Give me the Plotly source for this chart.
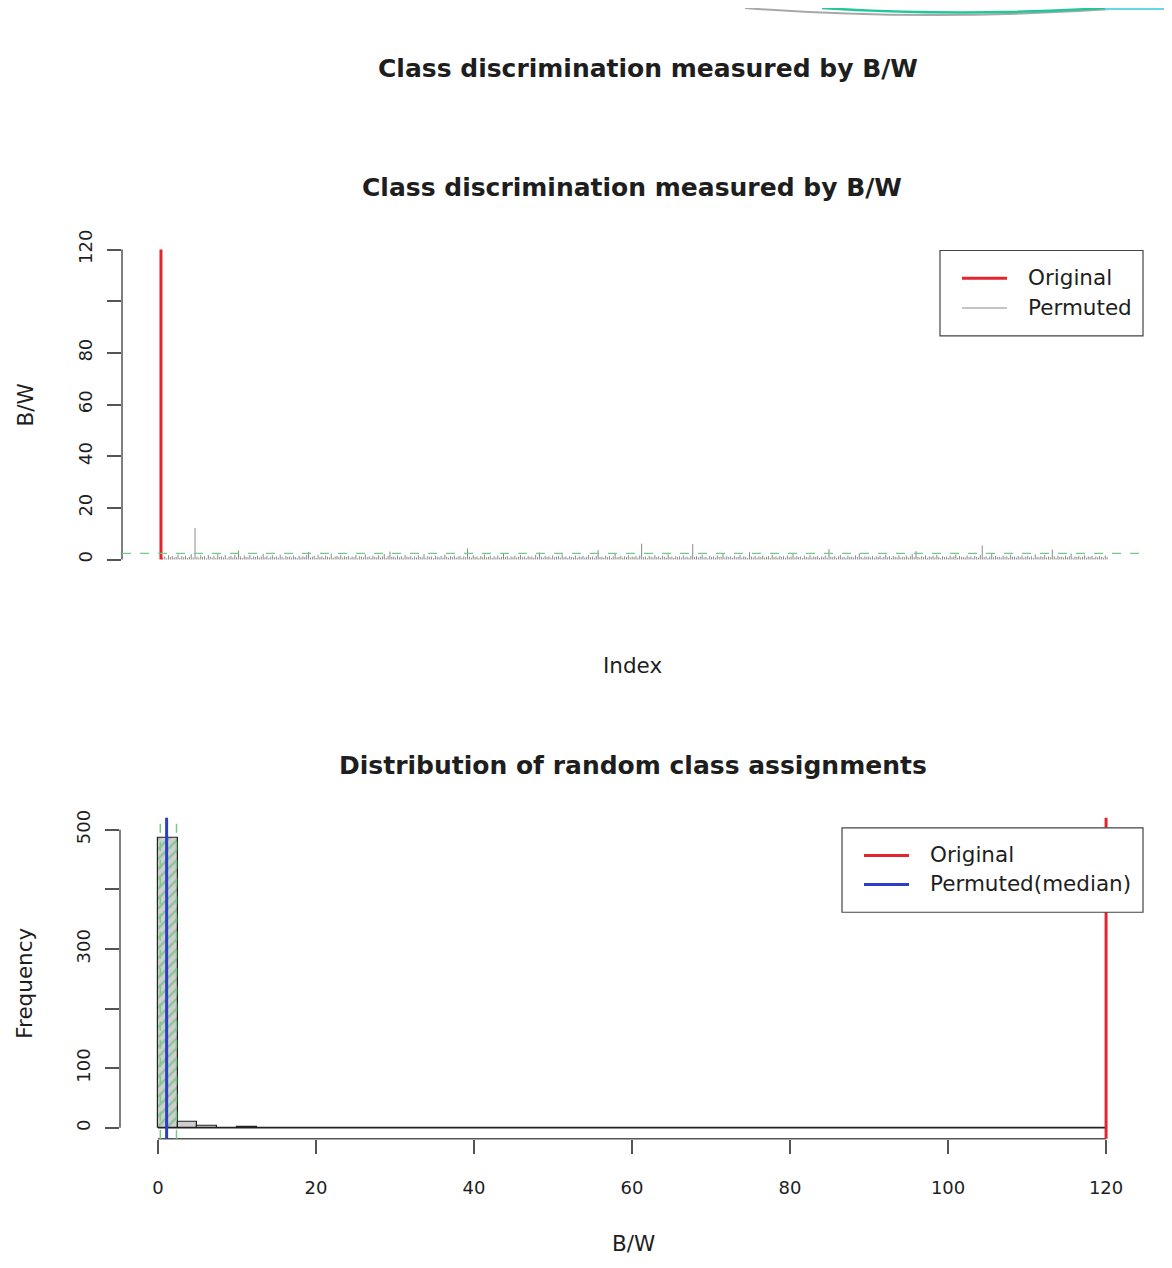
import numpy as np
import plotly.graph_objects as go

PAGE_W, PAGE_H = 1172, 1268
BODY_MARGIN = 8
W, H = PAGE_W - 2 * BODY_MARGIN, PAGE_H - 2 * BODY_MARGIN


def px(x):
    return (x - BODY_MARGIN) / W


def py(y):
    return 1 - (y - BODY_MARGIN) / H


# ---------------- data ----------------
original_bw = 120.0
permuted_bw = [
    0.84, 1.21, 0.47, 1.63, 0.92, 1.35, 0.71, 1.08, 1.94, 0.56, 1.27, 0.88, 1.49, 0.63, 1.12, 2.05, 0.79, 12.2, 1.03, 0.68, 1.57, 0.95, 1.31, 0.52, 1.76,
    1.18, 0.74, 1.42, 0.61, 2.12, 0.99, 1.26, 0.83, 1.68, 0.45, 1.09, 1.37, 0.77, 1.85, 0.91, 3.42, 1.14, 0.58, 1.51, 1.02, 0.86, 1.73, 0.64, 1.29, 0.97,
    1.44, 0.71, 1.16, 2.21, 0.89, 1.33, 0.55, 1.05, 1.62, 0.81, 1.24, 0.67, 1.91, 1.07, 0.49, 1.38, 0.93, 1.19, 0.76, 1.55, 1.01, 0.62, 1.47, 0.85, 1.28,
    0.94, 1.66, 2.87, 0.73, 1.11, 1.39, 0.57, 1.82, 0.98, 1.22, 0.69, 1.53, 1.04, 0.82, 2.31, 0.59, 1.17, 1.36, 0.87, 1.61, 0.72, 1.25, 0.96, 1.43, 0.65,
    1.13, 0.88, 1.71, 0.54, 1.32, 1.06, 0.79, 1.98, 0.92, 1.19, 0.66, 1.46, 1.01, 0.84, 1.58, 0.75, 1.23, 2.16, 0.61, 1.34, 3.08, 0.97, 1.14, 0.71, 1.52,
    0.86, 1.27, 0.63, 1.79, 1.09, 0.93, 1.41, 0.58, 1.20, 0.78, 1.64, 1.03, 0.89, 2.08, 0.68, 1.31, 0.95, 1.15, 0.52, 1.48, 1.07, 0.81, 1.37, 0.74, 1.88,
    1.02, 0.67, 1.29, 0.91, 1.56, 0.77, 1.12, 1.40, 0.60, 1.23, 0.85, 4.27, 1.08, 0.72, 1.67, 0.98, 1.18, 0.56, 1.35, 0.90, 1.94, 0.79, 1.05, 1.44, 0.64,
    1.26, 0.83, 1.59, 0.70, 1.10, 2.27, 0.94, 1.32, 0.61, 1.17, 0.87, 1.50, 0.76, 1.04, 1.72, 0.92, 1.21, 0.55, 1.38, 0.99, 1.13, 0.69, 1.84, 0.88, 2.68,
    1.07, 0.73, 1.45, 0.96, 1.24, 0.62, 1.60, 0.84, 1.11, 1.36, 0.71, 1.99, 0.90, 1.16, 0.58, 1.30, 1.03, 0.80, 1.53, 0.67, 1.22, 0.95, 1.41, 0.75, 1.09,
    1.77, 0.86, 1.19, 0.63, 1.34, 3.61, 0.97, 1.06, 0.74, 1.49, 0.89, 1.28, 0.57, 1.14, 2.19, 0.82, 1.01, 1.43, 0.68, 1.25, 0.93, 1.62, 0.78, 1.12, 0.99,
    1.33, 0.70, 1.55, 6.12, 0.87, 1.18, 0.60, 1.39, 1.02, 0.81, 1.70, 0.94, 1.23, 0.66, 1.47, 1.05, 0.77, 2.03, 0.91, 1.15, 0.59, 1.31, 0.98, 1.21, 0.73,
    1.58, 0.88, 1.10, 0.65, 1.42, 5.97, 0.92, 1.27, 0.76, 1.13, 1.86, 0.83, 1.04, 0.54, 1.36, 0.97, 1.20, 0.71, 1.51, 0.89, 1.08, 2.24, 0.79, 1.30, 0.95,
    1.17, 0.63, 1.44, 0.86, 1.03, 1.65, 0.74, 1.26, 0.99, 0.58, 2.83, 1.12, 0.82, 1.37, 0.69, 1.19, 0.93, 1.57, 0.77, 1.06, 1.32, 0.61, 1.81, 0.90, 1.14,
    0.72, 1.40, 0.96, 1.22, 0.64, 1.53, 0.85, 1.09, 2.11, 0.78, 1.29, 0.94, 1.16, 0.57, 1.46, 1.01, 0.83, 1.69, 0.70, 1.24, 0.98, 1.35, 0.62, 1.11, 0.88,
    1.52, 0.75, 4.02, 1.07, 0.91, 1.33, 0.66, 1.20, 1.78, 0.84, 1.04, 0.59, 1.43, 0.97, 1.15, 0.73, 1.60, 0.87, 2.36, 1.02, 0.68, 1.28, 0.92, 1.13, 0.80,
    1.39, 0.65, 1.18, 0.95, 1.50, 0.71, 1.08, 1.89, 0.82, 1.25, 0.60, 1.34, 1.00, 0.86, 1.63, 0.77, 1.12, 0.93, 1.45, 0.69, 1.21, 2.07, 0.88, 3.24, 1.06,
    0.74, 1.30, 0.90, 1.56, 0.63, 1.17, 0.99, 1.41, 0.80, 1.74, 1.05, 0.56, 1.27, 0.94, 1.11, 0.70, 1.48, 0.85, 1.22, 1.92, 0.67, 1.36, 0.96, 1.03, 0.79,
    1.54, 0.88, 1.19, 0.62, 1.32, 1.01, 0.76, 1.67, 5.43, 0.91, 1.24, 0.58, 1.14, 2.15, 0.83, 1.38, 0.97, 1.07, 0.72, 1.49, 0.89, 1.26, 0.65, 1.82, 1.00,
    1.16, 0.78, 1.35, 0.93, 1.59, 0.69, 1.09, 1.44, 0.84, 1.23, 0.60, 1.97, 1.04, 0.81, 1.30, 0.95, 1.71, 0.73, 1.13, 0.87, 3.86, 1.20, 0.64, 1.42, 0.98,
    1.10, 0.76, 1.52, 0.90, 1.28, 2.28, 0.67, 1.15, 0.94, 1.37, 0.80, 1.06, 1.64, 0.72, 1.21, 0.99, 1.46, 0.61, 1.18, 0.86, 1.33, 1.02, 0.75, 1.55, 0.92,
]
perm_median = 1.1
perm_q_low = 0.3
perm_q_high = 2.35
hist_bin_width = 2.5
hist_start, hist_end = 0.0, 120.0

main_title = "Class discrimination measured by B/W"
top_title = "Class discrimination measured by B/W"
bottom_title = "Distribution of random class assignments"
top_yticks = [0, 20, 40, 60, 80, 100, 120]
top_yticklabels = ["0", "20", "40", "60", "80", "", "120"]
bot_xticks = [0, 20, 40, 60, 80, 100, 120]
bot_yticks = [0, 100, 200, 300, 400, 500]
bot_yticklabels = ["0", "100", "", "300", "", "500"]
legend_top = ["Original", "Permuted"]
legend_bottom = ["Original", "Permuted(median)"]

# ---------------- styles ----------------
FONT = "DejaVu Sans"
TXT = "#1e1e1e"
AX = "#555555"
RED = "#e3262e"
BLUE = "#2a3fc4"
GREEN = "#74cc82"
GREY = "#8a8a8a"

fig = go.Figure()

# ---- top panel: index plot ----
n_perm = len(permuted_bw)
idx = np.arange(2, n_perm + 2)
xs, ys = [], []
for i, v in zip(idx, permuted_bw):
    xs += [i, i, None]
    ys += [0, v, None]
fig.add_trace(go.Scatter(x=xs, y=ys, mode="lines", line=dict(color=GREY, width=1),
                         xaxis="x", yaxis="y", hoverinfo="skip", showlegend=False))
fig.add_trace(go.Scatter(x=[1, 1], y=[0, original_bw], mode="lines",
                         line=dict(color=RED, width=3), xaxis="x", yaxis="y",
                         showlegend=False))

# ---- bottom panel: histogram ----
edges = np.arange(hist_start, hist_end + hist_bin_width / 2, hist_bin_width)
counts, _ = np.histogram(permuted_bw, bins=edges)
centers = (edges[:-1] + edges[1:]) / 2
pattern_shapes = ["/" if (lo < perm_q_high and hi > perm_q_low) else "" for lo, hi in zip(edges[:-1], edges[1:])]
fig.add_trace(go.Bar(x=centers, y=counts, width=hist_bin_width, xaxis="x2", yaxis="y2",
                     marker=dict(color="#cfcfcf", line=dict(color="#222222", width=1.2),
                                 pattern=dict(shape=pattern_shapes, fgcolor="#49b85a",
                                              size=7, solidity=0.35, fillmode="overlay")),
                     showlegend=False))

shapes = []
# top y-axis line
shapes.append(dict(type="line", xref="x domain", yref="y", x0=0, x1=0, y0=top_yticks[0], y1=top_yticks[-1],
                   line=dict(color=AX, width=1.5)))
# green dashed horizontal
shapes.append(dict(type="line", xref="x domain", yref="y", x0=0, x1=1, y0=perm_q_high, y1=perm_q_high,
                   line=dict(color=GREEN, width=1.2, dash="dash")))
# bottom axis lines
shapes.append(dict(type="line", xref="x2", yref="y2 domain", x0=bot_xticks[0], x1=bot_xticks[-1], y0=0, y1=0,
                   line=dict(color=AX, width=1.5)))
shapes.append(dict(type="line", xref="x2 domain", yref="y2", x0=0, x1=0, y0=bot_yticks[0], y1=bot_yticks[-1],
                   line=dict(color=AX, width=1.5)))
# zero-height histogram cells outline
shapes.append(dict(type="line", xref="x2", yref="y2", x0=hist_start, x1=hist_end, y0=0, y1=0,
                   line=dict(color="#222222", width=1.5)))
# vertical reference lines
for xv in (perm_q_low, perm_q_high):
    shapes.append(dict(type="line", xref="x2", yref="y2 domain", x0=xv, x1=xv, y0=0, y1=1,
                       line=dict(color=GREEN, width=1.5, dash="dash")))
shapes.append(dict(type="line", xref="x2", yref="y2 domain", x0=perm_median, x1=perm_median, y0=0, y1=1,
                   line=dict(color=BLUE, width=3)))
shapes.append(dict(type="line", xref="x2", yref="y2 domain", x0=original_bw, x1=original_bw, y0=0, y1=1,
                   line=dict(color=RED, width=3)))


# legends (R style boxes)
def legend_box(x0, x1, y0, y1, entries):
    out = [dict(type="rect", xref="paper", yref="paper", x0=px(x0), x1=px(x1), y0=py(y1), y1=py(y0),
                fillcolor="white", line=dict(color="#444444", width=1.2))]
    for (yy, col, w) in entries:
        out.append(dict(type="line", xref="paper", yref="paper", x0=px(x0 + 22), x1=px(x0 + 67),
                        y0=py(yy), y1=py(yy), line=dict(color=col, width=w)))
    return out


shapes += legend_box(940, 1143, 244, 330, [(272, RED, 3), (302, "#b0b0b0", 1.5)])
shapes += legend_box(842, 1143, 825, 910, [(853, RED, 3), (882, BLUE, 3)])

# top-edge decoration
shapes.append(dict(type="path", xref="paper", yref="paper",
                   path=f"M {px(745)} {py(0)} Q {px(930)} {py(14)} {px(1128)} {py(0)}",
                   line=dict(color="#a8a8a8", width=2)))
shapes.append(dict(type="path", xref="paper", yref="paper",
                   path=f"M {px(822)} {py(0)} Q {px(960)} {py(9)} {px(1105)} {py(0)}",
                   line=dict(color="#1fc79a", width=2.5)))
shapes.append(dict(type="line", xref="paper", yref="paper", x0=px(1105), x1=px(1172), y0=py(1), y1=py(1),
                   line=dict(color="#66d9e8", width=2)))

annotations = []


def txt(text, x, y, size=21.5, bold=False, angle=0, xanchor="center"):
    annotations.append(dict(text=f"<b>{text}</b>" if bold else text, x=px(x), y=py(y),
                            xref="paper", yref="paper", showarrow=False, textangle=angle,
                            xanchor=xanchor, yanchor="middle",
                            font=dict(family=FONT, size=size, color=TXT)))


txt(main_title, 648, 61, size=25, bold=True)
txt(top_title, 632, 181, size=25, bold=True)
txt(bottom_title, 633, 762, size=25, bold=True)
txt("B/W", 25, 400, angle=-90)
txt("Index", 632, 662)
txt("Frequency", 25, 982, angle=-90)
txt("B/W", 633, 1243)
txt(legend_top[0], 1026, 271, xanchor="left")
txt(legend_top[1], 1026, 301, xanchor="left")
txt(legend_bottom[0], 928, 852, xanchor="left")
txt(legend_bottom[1], 928, 881, xanchor="left")

axis_common = dict(showgrid=False, zeroline=False, showline=False, ticks="outside",
                   ticklen=14, tickwidth=1.5, tickcolor=AX,
                   tickfont=dict(family=FONT, size=18, color=TXT))

fig.update_layout(
    width=W, height=H, autosize=False,
    margin=dict(l=0, r=0, t=0, b=0),
    paper_bgcolor="white", plot_bgcolor="white",
    showlegend=False,
    bargap=0,
    xaxis=dict(domain=[px(122), px(1145)], range=[-19.6, n_perm + 21], visible=False,
               anchor="y"),
    yaxis=dict(domain=[py(568), py(230)], range=[-5, 125], anchor="x",
               tickvals=top_yticks, ticktext=top_yticklabels, tickangle=-90,
               ticklabelstandoff=8, **axis_common),
    xaxis2=dict(domain=[px(120), px(1144)], range=[-4.8, 124.8], anchor="y2",
                tickvals=bot_xticks, ticktext=[str(t) for t in bot_xticks],
                ticklabelstandoff=19, **axis_common),
    yaxis2=dict(domain=[py(1138), py(815)], range=[-18.33, 520], anchor="x2",
                tickvals=bot_yticks, ticktext=bot_yticklabels, tickangle=-90,
                ticklabelstandoff=8, **axis_common),
    shapes=shapes,
    annotations=annotations,
)

fig.write_html("out.html")
